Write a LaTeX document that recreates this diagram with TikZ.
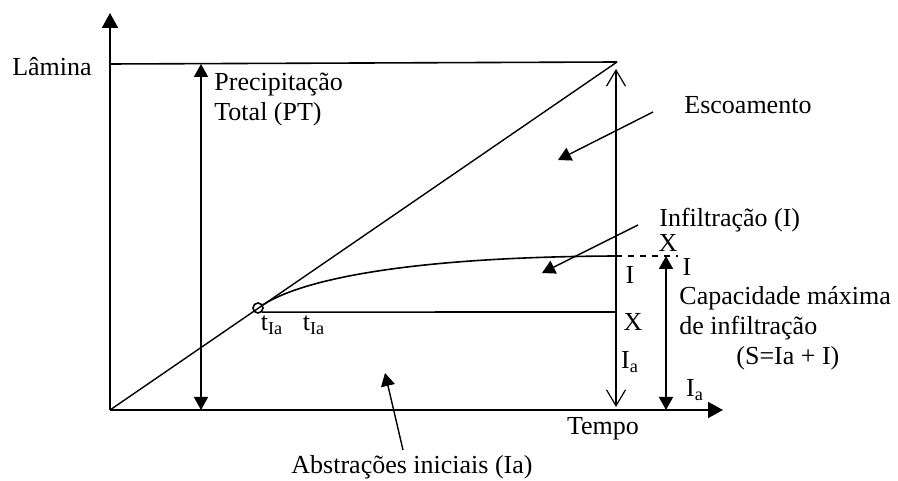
\documentclass[tikz,border=0pt]{standalone}
\usepackage{fontspec}
\setmainfont{Liberation Serif}
\usetikzlibrary{arrows.meta}

\tikzset{
  axisline/.style={line width=0.9pt, -{Triangle[length=7.5pt,width=8pt]}},
  filledboth/.style={line width=0.8pt, {Triangle[length=6.5pt,width=7pt]}-{Triangle[length=6.5pt,width=7pt]}},
  openboth/.style={line width=0.6pt, {Straight Barb[length=8pt,width=9.5pt]}-{Straight Barb[length=8pt,width=9.5pt]}},
  pointer/.style={line width=0.7pt, -{Triangle[length=6.5pt,width=7pt]}},
  lbl/.style={inner sep=0.5pt}
}

\begin{document}
\begin{tikzpicture}[x=0.5pt, y=0.5pt, font=\fontsize{13}{15}\selectfont]
  \useasboundingbox (-110,-71) rectangle (788,410);

  % eixos
  \coordinate (O) at (0,0);
  \coordinate (ytop) at (0,397);
  \coordinate (xend) at (613,0);
  \draw[axisline] (O) -- (ytop);
  \draw[axisline] (O) -- (xend);

  % precipitacao acumulada
  \coordinate (pl) at (0,346);
  \coordinate (pr) at (507,348);
  \draw[line width=0.8pt] (pl) -- (pr);
  \draw[line width=0.7pt] (O) -- (pr);

  \node[lbl] (lamina) at (-58,343) {Lâmina};
  \draw[filledboth] (91,346) -- (91,0);
  \node[lbl, anchor=west, align=left] (pt) at (103,310) {Precipitação\\Total (PT)};

  % linha vertical no fim do evento
  \draw[openboth] (506,341) -- (506,3);

  % escoamento
  \node[lbl, anchor=west] (esc) at (573,305) {Escoamento};
  \coordinate (escA) at (543,298);
  \coordinate (escB) at (448,250);
  \draw[pointer] (escA) -- (escB);

  % curva de infiltracao
  \node[circle, draw, line width=0.8pt, minimum size=5pt, inner sep=0pt] (tIa) at (148,102) {};
  \coordinate (Xt) at (506,154);
  \coordinate (Xd) at (568,154);
  \coordinate (Xb) at (506,98);
  \draw[line width=0.8pt] (tIa) .. controls (190,129) and (290,153) .. (Xt);
  \draw[line width=0.8pt, dashed] (Xt) -- (Xd);
  \draw[line width=0.8pt] (tIa.south east) -- (Xb);

  \node[lbl, anchor=west] (inf) at (548,190) {Infiltração (I)};
  \coordinate (infA) at (528,185);
  \coordinate (infB) at (432,137);
  \draw[pointer] (infA) -- (infB);

  \node[lbl] (t1) at (162,85) {t\textsubscript{Ia}};
  \node[lbl] (t2) at (204,85) {t\textsubscript{Ia}};

  % rotulos na vertical
  \node[lbl] (xtop) at (558,167) {X};
  \node[lbl] (iright) at (577,143) {I};
  \node[lbl] (ileft) at (520,135) {I};
  \node[lbl] (xlow) at (523,88) {X};
  \node[lbl] (ia1) at (520,48) {I\textsubscript{a}};
  \node[lbl] (ia2) at (585,20) {I\textsubscript{a}};

  % capacidade maxima
  \draw[filledboth] (556,154) -- (556,0);
  \node[lbl, anchor=west, align=left] (cap) at (568,97) {Capacidade máxima\\de infiltração};
  \node[lbl, anchor=west] (S) at (625,52) {(S=Ia + I)};

  \node[lbl] (tempo) at (493,-19) {Tempo};

  % abstracoes iniciais
  \node[lbl] (abs) at (302,-57) {Abstrações iniciais (Ia)};
  \coordinate (absA) at (293,-40);
  \coordinate (absB) at (275,37);
  \draw[pointer] (absA) -- (absB);
\end{tikzpicture}
\end{document}
